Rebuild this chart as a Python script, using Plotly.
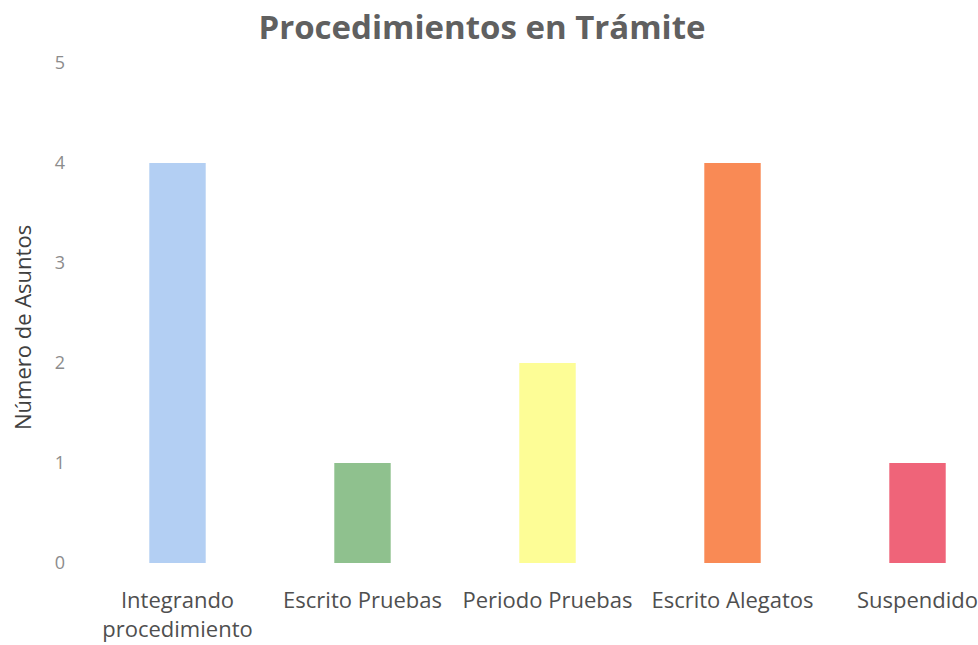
import plotly.graph_objects as go

categories = ["Integrando<br>procedimiento", "Escrito Pruebas", "Periodo Pruebas", "Escrito Alegatos", "Suspendido"]
values = [4, 1, 2, 4, 1]
colors = ["#b3cff3", "#8fc18e", "#fdfd96", "#f98a55", "#ef6479"]
y_ticks = [0, 1, 2, 3, 4, 5]

fig = go.Figure(go.Bar(x=categories, y=values, marker=dict(color=colors, line=dict(width=0)), width=0.305))

fig.update_layout(
    width=978, height=645,
    paper_bgcolor="white", plot_bgcolor="white",
    margin=dict(l=85, r=0, t=63, b=82),
    title=dict(text="<b>Procedimientos en Trámite</b>", x=0.4928, xanchor="center",
               y=0.957, yanchor="middle",
               font=dict(family="Open Sans", size=33, color="#606060")),
    showlegend=False,
    font=dict(family="Open Sans"),
    annotations=[dict(text="Número de Asuntos", textangle=-90, xref="paper", yref="paper",
                      x=-0.0705, y=0.47, xanchor="center", yanchor="middle", showarrow=False,
                      font=dict(size=22, color="#404040"))],
)
fig.update_xaxes(range=[-0.5, 4.327], showgrid=False, showline=False, ticks="",
                 ticklabelstandoff=22,
                 tickfont=dict(size=22, color="#4f4f4f"))
fig.update_yaxes(range=[0, 5], tickvals=y_ticks, showgrid=False, showline=False, zeroline=False,
                 ticks="", ticklabelstandoff=19,
                 tickfont=dict(size=18, color="#8c8c8c"))

fig.write_html("out.html", config={"displayModeBar": False},
               post_script="document.body.style.margin='0';document.documentElement.style.overflow='hidden';")
